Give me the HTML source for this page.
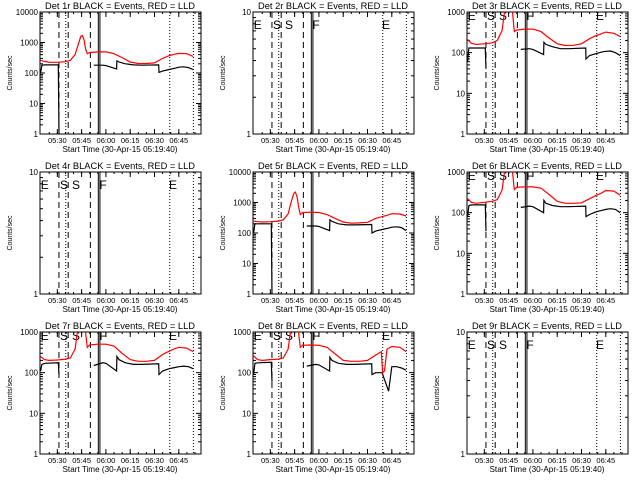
<!DOCTYPE html>
<html><head><meta charset="utf-8"><style>
html,body{margin:0;padding:0;background:#fff;}
svg{display:block;font-family:"Liberation Sans",sans-serif;}
</style></head><body>
<svg id="chart" width="640" height="480" viewBox="0 0 640 480" xmlns="http://www.w3.org/2000/svg"></svg>
<script>
// ---- data (minutes since 05:00 UT) ----
const detNames = ["Det 1r","Det 2r","Det 3r","Det 4r","Det 5r","Det 6r","Det 7r","Det 8r","Det 9r"];
const yTopDecade = [4,1,3,1,4,3,3,3,1];
const timeTickLabels = ["05:30","05:45","06:00","06:15","06:30","06:45"];
const timeTickValues = [30,45,60,75,90,105];
const redT = [19.7,22,25,30,35,38,41,43,44.5,45.5,46.5,47.5,48.5,50,55,60,65,70,75,80,85,90,95,98.5,99.3,100.5,102,105,110,113.8];
const red1 = [260,240,225,225,235,260,400,900,1600,1700,1200,600,430,470,490,490,430,320,230,205,205,215,300,360,375,390,410,440,430,350];
const red3 = [210,170,160,165,175,200,350,1500,3000,3500,2500,900,330,360,380,380,330,230,165,150,152,165,220,260,265,275,290,320,300,250];
const red5 = [250,235,230,235,245,270,420,1100,2000,2200,1500,700,400,470,480,470,400,300,230,210,215,225,300,340,350,360,380,430,420,360];
const red6 = [220,180,170,180,190,210,360,1500,3000,3500,2500,900,370,420,430,430,400,280,190,170,170,175,220,260,270,280,300,350,340,270];
const red7 = [250,210,200,205,215,230,380,1500,3000,3500,2500,900,420,480,500,500,450,300,210,190,190,200,280,330,340,360,380,420,400,330];
const red8 = [260,210,200,210,215,230,380,1500,3000,3500,2500,900,420,470,480,470,420,290,200,190,190,200,270,330,100,110,380,440,420,330];
const blackT = [19.7,20.5,22.4,30.6,31.0,31.2,52.5,58,60,66.6,66.8,68,72,77,82,92.6,92.8,95,99,103,105,108,111,113.8];
const black1 = [100,180,185,185,1,null,180,180,175,135,250,230,200,185,180,185,105,115,130,145,155,160,150,130];
const black3 = [60,130,130,130,40,null,120,125,120,90,180,160,140,125,125,130,70,85,95,105,108,110,100,85];
const black5 = [100,200,200,200,1,null,170,170,165,120,270,240,200,185,185,190,100,115,130,145,155,160,150,120];
const black6 = [80,150,155,155,35,null,135,145,140,100,200,170,150,140,140,145,80,90,105,115,120,125,120,100];
const black7 = [110,160,170,175,90,null,150,175,170,110,250,210,175,160,160,165,90,110,125,135,140,145,140,125];
const black8 = [90,170,175,180,60,null,145,160,155,110,240,200,170,160,160,165,90,100,100,35,140,140,130,115];
const redSeries = [red1,null,red3,null,red5,red6,red7,red8,null];
const blackSeries = [black1,null,black3,null,black5,black6,black7,black8,null];
const dashedTimes = [31.0,36.7,50.4];
const dottedTimes = [35.2,99.4,114.0];
const solidTimes = [55.3,56.3];
const markerLetters = ["E","S","S","F","E"];
const markerTimes = [22.2,34.1,41.5,58.2,101.4];

const NS="http://www.w3.org/2000/svg";
const svg=document.getElementById('chart');
const BL=40,BR=201,BT=12,BB=134,TMIN=19.3,TMAX=118.7;
function mk(tag,attrs,parent){const e=document.createElementNS(NS,tag);for(const k in attrs)e.setAttribute(k,attrs[k]);parent.appendChild(e);return e;}
function xs(t){return BL+(t-TMIN)/(TMAX-TMIN)*(BR-BL);}

for(let p=0;p<9;p++){
  const ox=[0,213,427][p%3], oy=[0,160,320][Math.floor(p/3)];
  const g=mk('g',{transform:`translate(${ox},${oy})`},svg);
  
  
  const top=yTopDecade[p];
  const ys=v=>BB-Math.log10(v)/top*(BB-BT);
  const clipId='clip'+p;
  const cp=mk('clipPath',{id:clipId},g);
  mk('rect',{x:BL,y:BT,width:BR-BL,height:BB-BT},cp);
  const ti=mk('text',{x:120,y:9,'font-size':'9','text-anchor':'middle',textLength:'150',lengthAdjust:'spacingAndGlyphs'},g);
  ti.textContent=detNames[p]+" BLACK = Events, RED = LLD";
  
  
  const yt=mk('text',{x:0,y:0,'font-size':'7','text-anchor':'middle',transform:'translate(12,73) rotate(-90)'},g);
  yt.textContent="Counts/sec";
  
  
  const xt=mk('text',{x:120,y:152,'font-size':'8','text-anchor':'middle',textLength:'115',lengthAdjust:'spacingAndGlyphs'},g);
  xt.textContent="Start Time (30-Apr-15 05:19:40)";
  
  
  const box=mk('rect',{x:BL,y:BT,width:BR-BL,height:BB-BT,fill:'none',stroke:'#000','stroke-width':1},g);
  
  
  for(let d=0;d<=top;d++){
    const y=ys(Math.pow(10,d));
    mk('line',{x1:BL,x2:BL+5,y1:y,y2:y,stroke:'#000'},g);
    mk('line',{x1:BR-5,x2:BR,y1:y,y2:y,stroke:'#000'},g);
    const lb=mk('text',{x:BL-2,y:y+3,'font-size':'8','text-anchor':'end'},g);
    lb.textContent=String(Math.pow(10,d));
    
    
    if(d<top){for(let m=2;m<10;m++){const yy=ys(m*Math.pow(10,d));
      mk('line',{x1:BL,x2:BL+3,y1:yy,y2:yy,stroke:'#000'},g);
      mk('line',{x1:BR-3,x2:BR,y1:yy,y2:yy,stroke:'#000'},g);}}
  }
  for(let i=0;i<timeTickValues.length;i++){
    const x=xs(timeTickValues[i]);
    mk('line',{x1:x,x2:x,y1:BB,y2:BB-5,stroke:'#000'},g);
    mk('line',{x1:x,x2:x,y1:BT,y2:BT+5,stroke:'#000'},g);
    const lb=mk('text',{x:x,y:143,'font-size':'7.5','text-anchor':'middle'},g);
    lb.textContent=timeTickLabels[i];
    
    
  }
  for(let t=25;t<TMAX;t+=5){const x=xs(t);
    mk('line',{x1:x,x2:x,y1:BB,y2:BB-2,stroke:'#000'},g);
    mk('line',{x1:x,x2:x,y1:BT,y2:BT+2,stroke:'#000'},g);}
  const vl=mk('g',{'clip-path':`url(#${clipId})`},g);
  
  
  dashedTimes.forEach(t=>mk('line',{x1:xs(t),x2:xs(t),y1:BT,y2:BB,stroke:'#000','stroke-dasharray':'6,4'},vl));
  dottedTimes.forEach(t=>mk('line',{x1:xs(t),x2:xs(t),y1:BT,y2:BB,stroke:'#000','stroke-dasharray':'1,2'},vl));
  solidTimes.forEach(t=>mk('line',{x1:xs(t),x2:xs(t),y1:BT,y2:BB,stroke:'#000'},vl));
  if(top<4){
    const ly= top===1?29:20;
    for(let i=0;i<markerLetters.length;i++){
      const tx=mk('text',{x:xs(markerTimes[i]),y:ly,'font-size':'12','text-anchor':'middle'},g);
      tx.textContent=markerLetters[i];
      
      
    }
  }
  const plotSeries=(T,V,color,name)=>{
    if(!V)return;
    let d='',pen=false;
    for(let i=0;i<T.length;i++){
      if(V[i]==null){pen=false;continue;}
      d+=(pen?'L':'M')+xs(T[i]).toFixed(1)+','+ys(V[i]).toFixed(1);pen=true;
    }
    const pa=mk('path',{d:d,fill:'none',stroke:color,'stroke-width':1.2,'clip-path':`url(#${clipId})`},g);
    
    
  };
  plotSeries(blackT,blackSeries[p],'#000','events-line');
  plotSeries(redT,redSeries[p],'#f00','lld-line');
}
</script>
</body></html>
